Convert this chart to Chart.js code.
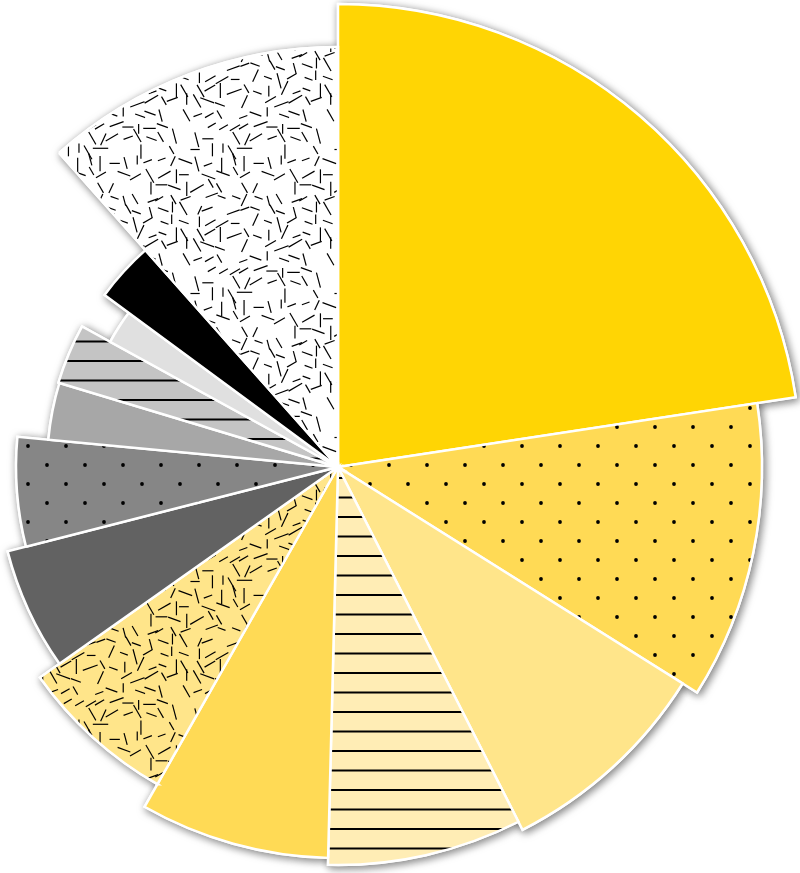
<!DOCTYPE html>
<html>
<head>
<meta charset="utf-8">
<script src="https://cdn.jsdelivr.net/npm/chart.js@4.4.1/dist/chart.umd.min.js"></script>
<style>
  html, body { margin: 0; padding: 0; background: #ffffff; }
  #wrap { width: 800px; height: 873px; }
</style>
</head>
<body>
<div id="wrap"><canvas id="grafica-pastel" width="800" height="873"></canvas></div>
<script>
// categorias y valores
const categorias = ['A', 'B', 'C', 'D', 'E', 'F', 'G', 'H', 'I', 'J', 'K', 'L', 'M'];
const valores = [81.3, 40.8, 30.9, 28.4, 28.2, 25.1, 20.9, 19.7, 11.4, 12.0, 7.6, 12.0, 41.6];
const radios = [463, 424, 407, 398, 391, 365, 341, 322, 291, 292, 260, 290, 420];

const colores = ['#FFD504', '#FFDA55', '#FFE58A', '#FFEDB5', '#FFDA55', '#FFE58A',
  '#626262', '#868686', '#A7A7A7', '#C4C4C4', '#E0E0E0', '#000000', '#FFFFFF'];
// tipo de relleno de cada porcion
const rellenos = ['', 'dots', '', 'lines', '', 'hash', '', 'dots', '', 'lines', '', '', 'hash'];

function patronPuntos(fondo) {
  const c = document.createElement('canvas');
  c.width = 38; c.height = 38;
  const g = c.getContext('2d');
  g.fillStyle = fondo; g.fillRect(0, 0, 38, 38);
  g.fillStyle = '#000';
  [[9, 9], [28, 28]].forEach(p => {
    g.beginPath(); g.arc(p[0], p[1], 1.9, 0, Math.PI * 2); g.fill();
  });
  return g.createPattern(c, 'repeat');
}

function patronLineas(fondo) {
  const c = document.createElement('canvas');
  c.width = 20; c.height = 39;
  const g = c.getContext('2d');
  g.fillStyle = fondo; g.fillRect(0, 0, 20, 39);
  g.fillStyle = '#000';
  g.fillRect(0, 9, 20, 2);
  g.fillRect(0, 28.5, 20, 2);
  return g.createPattern(c, 'repeat');
}

// rayitas cortas repartidas en una rejilla
function patronRayas(fondo) {
  const paso = 12, celdas = 12, n = paso * celdas;
  const c = document.createElement('canvas');
  c.width = n; c.height = n;
  const g = c.getContext('2d');
  g.fillStyle = fondo; g.fillRect(0, 0, n, n);
  g.strokeStyle = '#000';
  g.lineWidth = 1.2;
  let s = 777;
  const rnd = () => { s = (s * 16807) % 2147483647; return s / 2147483647; };
  const angulos = [0, 20, 60, 75, 90, 115, 150, 160];
  for (let cx = 0; cx < celdas; cx++) {
    for (let cy = 0; cy < celdas; cy++) {
      if (rnd() < 0.12) continue;
      const x = (cx + 0.5) * paso + (rnd() - 0.5) * 6;
      const y = (cy + 0.5) * paso + (rnd() - 0.5) * 6;
      const a = angulos[Math.floor(rnd() * angulos.length)] * Math.PI / 180;
      const l = 8 + rnd() * 8;
      const dx = Math.cos(a) * l / 2, dy = Math.sin(a) * l / 2;
      for (let ox = -n; ox <= n; ox += n) {
        for (let oy = -n; oy <= n; oy += n) {
          g.beginPath();
          g.moveTo(x - dx + ox, y - dy + oy);
          g.lineTo(x + dx + ox, y + dy + oy);
          g.stroke();
        }
      }
    }
  }
  return g.createPattern(c, 'repeat');
}

const fondos = colores.map((col, i) => {
  if (rellenos[i] === 'dots') return patronPuntos(col);
  if (rellenos[i] === 'lines') return patronLineas(col);
  if (rellenos[i] === 'hash') return patronRayas(col);
  return col;
});

// cada porcion con su propio radio
const radioVariable = {
  id: 'radioVariable',
  afterDatasetUpdate(chart, args) {
    const meta = args.meta;
    const base = meta.controller.outerRadius;
    const maxR = Math.max(...radios);
    meta.data.forEach((arc, i) => {
      arc.outerRadius = base * radios[i] / maxR;
    });
  },
  beforeDatasetDraw(chart, args) {
    const ctx = chart.ctx;
    ctx.save();
    ctx.shadowColor = 'rgba(0, 0, 0, 0.5)';
    ctx.shadowBlur = 9;
    ctx.shadowOffsetX = 2;
    ctx.shadowOffsetY = 2;
    args.meta.data.forEach(arc => arc.draw(ctx));
    ctx.restore();
  }
};

const ctx = document.getElementById('grafica-pastel').getContext('2d');
new Chart(ctx, {
  type: 'pie',
  data: {
    labels: categorias,
    datasets: [{
      data: valores,
      backgroundColor: fondos,
      borderColor: '#ffffff',
      borderWidth: 2.5,
      borderJoinStyle: 'miter'
    }]
  },
  options: {
    responsive: false,
    animation: false,
    events: [],
    radius: 463,
    layout: {
      padding: { left: 0, right: 124, top: 61, bottom: 0 }
    },
    plugins: {
      legend: { display: false },
      tooltip: { enabled: false }
    }
  },
  plugins: [radioVariable]
});
</script>
</body>
</html>
